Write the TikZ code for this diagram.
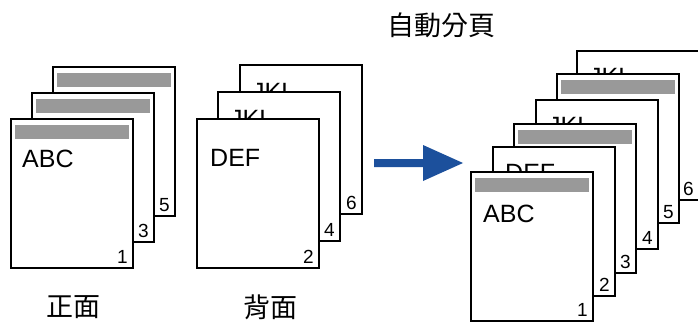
\documentclass[tikz,border=0pt]{standalone}
\usepackage{fontspec}
\setmainfont{Liberation Sans}
\newfontfamily\cjk{Noto Sans CJK TC}
\definecolor{barGray}{RGB}{153,153,153}
\definecolor{arrowBlue}{RGB}{28,80,156}
\newcommand\mypage[4]{\node[page] (#1) at (#2,#3) {};
  \node[pnum] (#1n) at ([shift={(-5,-5)}]#1.south east) {#4};}
\newcommand\pbar[1]{\fill[barGray] ([shift={(4,6)}]#1.north west) rectangle ([shift={(-4,20)}]#1.north east);}
\newcommand\ptxt[4]{\node[ptext] (#1) at ([shift={(#3)}]#2.north west) {#4};}
\begin{document}
\begin{tikzpicture}[x=1pt,y=-1pt,
  page/.style={draw=black, line width=1.5pt, fill=white, minimum width=122pt,
    minimum height=149pt, anchor=north west, inner sep=0pt, outer sep=0pt},
  pnum/.style={anchor=base east, font=\fontsize{19}{19}\selectfont, inner sep=0pt},
  ptext/.style={anchor=base west, font=\fontsize{25}{25}\selectfont, inner sep=0pt},
  cjklabel/.style={font=\cjk\fontsize{27}{27}\selectfont, inner sep=0pt}]
\useasboundingbox (0,0) rectangle (698,321);

% left stack: odd pages
\mypage{L5}{53}{67}{5}\pbar{L5}
\mypage{L3}{32}{93}{3}\pbar{L3}
\mypage{L1}{11}{119}{1}\pbar{L1}
\ptxt{L1t}{L1}{11,48}{ABC}

% middle stack: even pages
\mypage{M6}{240}{65}{6}\ptxt{M6t}{M6}{12,35}{JKL}
\mypage{M4}{218}{92}{4}\ptxt{M4t}{M4}{12,35}{JKL}
\mypage{M2}{197}{119}{2}\ptxt{M2t}{M2}{13,47}{DEF}

% right stack: collated
\mypage{R6}{577}{51}{6}\ptxt{R6t}{R6}{12,34}{JKL}
\mypage{R5}{557}{74}{5}\pbar{R5}
\mypage{R4}{536}{100}{4}\ptxt{R4t}{R4}{12,34}{JKL}
\mypage{R3}{514}{124}{3}\pbar{R3}
\mypage{R2}{493}{147}{2}\ptxt{R2t}{R2}{12,34}{DEF}
\mypage{R1}{471}{172}{1}\pbar{R1}
\ptxt{R1t}{R1}{12,50}{ABC}

% arrow
\fill[arrowBlue] (374,159) -- (423,159) -- (423,145) -- (463,163) -- (423,181) -- (423,167) -- (374,167) -- cycle;

% labels
\node[cjklabel] (front) at (73,307) {正面};
\node[cjklabel] (back) at (270,307) {背面};
\node[cjklabel] (auto) at (441,25) {自動分頁};
\end{tikzpicture}
\end{document}
